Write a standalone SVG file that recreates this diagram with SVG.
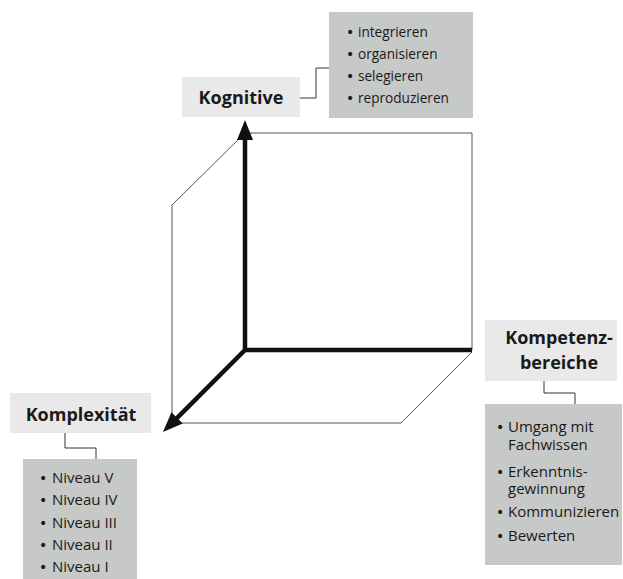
<svg xmlns="http://www.w3.org/2000/svg" width="623" height="579" viewBox="0 0 623 579">
<style>
.lbl{fill:#e9e9e9}
.lst{fill:#c7c8c8}
.t{font-family:"Open Sans","Noto Sans",sans-serif;font-size:13.6px;fill:#1a1a1a}
.t2{font-family:"Open Sans","Noto Sans",sans-serif;font-size:15px;fill:#1a1a1a}
.bu{font-family:"DejaVu Sans",sans-serif;font-size:14px}
.b{font-family:"Open Sans","Noto Sans",sans-serif;font-size:18px;font-weight:bold;fill:#1a1a1a}
.thin{fill:none;stroke:#555;stroke-width:1}
.conn{fill:none;stroke:#333;stroke-width:1}
.axis{fill:none;stroke:#111;stroke-width:4.5}
</style>
<defs>
<marker id="ah" viewBox="0 0 20 16" refX="2" refY="8" markerWidth="20" markerHeight="16" markerUnits="userSpaceOnUse" orient="auto">
<path d="M0,0 L20,8 L0,16 z" fill="#111"/>
</marker>
</defs>
<rect width="623" height="579" fill="#fff"/>
<g id="cube">
<path class="thin" d="M245,133 L472,133 L472,350"/>
<path class="thin" d="M245,133 L172,205 L172,423 L401,423 L472,352"/>
</g>
<g id="connectors">
<path class="axis" d="M243,350 L472,350"/>
<path class="axis" d="M245,352 L245,138" marker-end="url(#ah)"/>
<path class="axis" d="M245,350 L175.7,419.3" marker-end="url(#ah)"/>
<path class="conn" d="M300,98 L316,98 L316,68 L329,68"/>
<path class="conn" d="M65,433 L65,448 L96,448 L96,459"/>
<path class="conn" d="M544,381 L544,393 L575,393 L575,404"/>
</g>
<g id="kognitive">
<rect class="lbl" x="182" y="77" width="118" height="40"/>
<text class="b" x="241" y="104" text-anchor="middle">Kognitive</text>
</g>
<g id="kognitive-liste">
<rect class="lst" x="329" y="12" width="144" height="106"/>
<text class="t" y="37"><tspan class="bu" x="346">•</tspan><tspan x="358">integrieren</tspan></text>
<text class="t" y="59"><tspan class="bu" x="346">•</tspan><tspan x="358">organisieren</tspan></text>
<text class="t" y="81"><tspan class="bu" x="346">•</tspan><tspan x="358">selegieren</tspan></text>
<text class="t" y="103"><tspan class="bu" x="346">•</tspan><tspan x="358">reproduzieren</tspan></text>
</g>
<g id="komplexitaet">
<rect class="lbl" x="10" y="393" width="141" height="40"/>
<text class="b" x="81" y="421" text-anchor="middle">Komplexität</text>
</g>
<g id="komplexitaet-liste">
<rect class="lst" x="23" y="459" width="114" height="120"/>
<text class="t2" y="483"><tspan class="bu" x="39">•</tspan><tspan x="52">Niveau V</tspan></text>
<text class="t2" y="505"><tspan class="bu" x="39">•</tspan><tspan x="52">Niveau IV</tspan></text>
<text class="t2" y="528"><tspan class="bu" x="39">•</tspan><tspan x="52">Niveau III</tspan></text>
<text class="t2" y="550"><tspan class="bu" x="39">•</tspan><tspan x="52">Niveau II</tspan></text>
<text class="t2" y="572"><tspan class="bu" x="39">•</tspan><tspan x="52">Niveau I</tspan></text>
</g>
<g id="kompetenz">
<rect class="lbl" x="485" y="320" width="132" height="61"/>
<text class="b" text-anchor="middle"><tspan x="559" y="344">Kompetenz-</tspan><tspan x="559" y="369">bereiche</tspan></text>
</g>
<g id="kompetenz-liste">
<rect class="lst" x="485" y="404" width="137" height="161"/>
<text class="t2" y="432"><tspan class="bu" x="496">•</tspan><tspan x="508">Umgang mit</tspan><tspan x="508" y="450">Fachwissen</tspan></text>
<text class="t2" y="477"><tspan class="bu" x="496">•</tspan><tspan x="508">Erkenntnis-</tspan><tspan x="508" y="494">gewinnung</tspan></text>
<text class="t2" y="517"><tspan class="bu" x="496">•</tspan><tspan x="508">Kommunizieren</tspan></text>
<text class="t2" y="541"><tspan class="bu" x="496">•</tspan><tspan x="508">Bewerten</tspan></text>
</g>
</svg>
